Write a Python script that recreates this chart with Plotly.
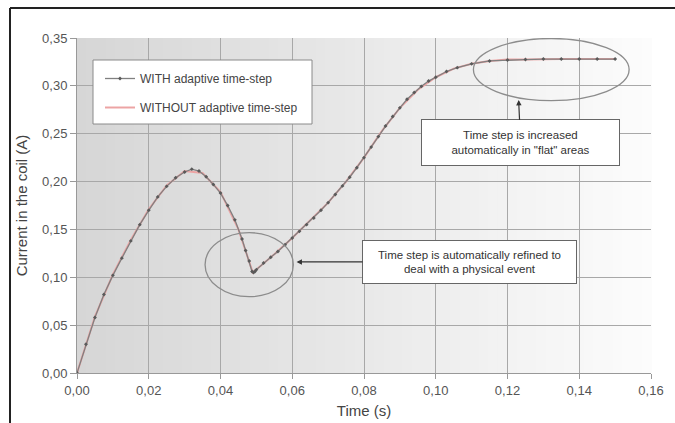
import plotly.graph_objects as go

# ---- data ----
t_with = [0.000, 0.0025, 0.005, 0.0075, 0.010, 0.0125, 0.015, 0.0175, 0.020, 0.0225,
          0.025, 0.0275, 0.030, 0.032, 0.034, 0.036, 0.038, 0.040, 0.042, 0.044,
          0.046, 0.047, 0.048, 0.0488, 0.0492, 0.0496, 0.050, 0.052, 0.054, 0.056,
          0.058, 0.060, 0.062, 0.064, 0.066, 0.068, 0.070, 0.072, 0.074, 0.076,
          0.078, 0.080, 0.082, 0.084, 0.086, 0.088, 0.090, 0.092, 0.094, 0.096,
          0.098, 0.100, 0.103, 0.106, 0.110, 0.115, 0.120, 0.125, 0.130, 0.135,
          0.140, 0.145, 0.150]
i_with = [0.000, 0.030, 0.058, 0.082, 0.102, 0.120, 0.138, 0.155, 0.170, 0.184,
          0.195, 0.204, 0.210, 0.213, 0.211, 0.205, 0.197, 0.188, 0.175, 0.160,
          0.140, 0.128, 0.117, 0.106, 0.105, 0.106, 0.108, 0.115, 0.121, 0.127,
          0.134, 0.141, 0.148, 0.155, 0.162, 0.170, 0.178, 0.1865, 0.1955, 0.2045,
          0.2145, 0.225, 0.236, 0.247, 0.258, 0.268, 0.277, 0.286, 0.293, 0.2995,
          0.305, 0.309, 0.315, 0.319, 0.323, 0.326, 0.327, 0.3275, 0.328, 0.328,
          0.328, 0.328, 0.328]

t_without = [0.000, 0.005, 0.010, 0.015, 0.020, 0.025, 0.030, 0.035, 0.040, 0.045,
             0.049, 0.055, 0.060, 0.065, 0.070, 0.075, 0.080, 0.085, 0.090, 0.095,
             0.100, 0.105, 0.110, 0.115, 0.120, 0.125, 0.130, 0.135, 0.140, 0.145, 0.150]
i_without = [0.000, 0.059, 0.103, 0.139, 0.171, 0.196, 0.211, 0.209, 0.189, 0.150,
             0.105, 0.124, 0.141, 0.160, 0.178, 0.200, 0.225, 0.253, 0.277, 0.296,
             0.309, 0.318, 0.323, 0.326, 0.3275, 0.3275, 0.328, 0.328, 0.328, 0.328, 0.328]

x_ticks = [0.00, 0.02, 0.04, 0.06, 0.08, 0.10, 0.12, 0.14, 0.16]
y_ticks = [0.00, 0.05, 0.10, 0.15, 0.20, 0.25, 0.30, 0.35]

name_with = "WITH adaptive time-step"
name_without = "WITHOUT adaptive time-step"
note_event = "Time step is automatically refined to<br>deal with a physical event"
note_flat = "Time step is increased<br>automatically in \"flat\" areas"

W, H = 675, 423
ML, MR, MT, MB = 77, 24, 38, 50

fig = go.Figure()
fig.add_trace(go.Scatter(x=t_without, y=i_without, mode="lines", name=name_without,
                         line=dict(color="#eca4a4", width=2.0), legendgroup="b",
                         legendrank=2))
fig.add_trace(go.Scatter(x=t_with, y=i_with, mode="lines+markers", name=name_with,
                         line=dict(color="#808080", width=1.3),
                         marker=dict(symbol="diamond", size=3, color="#5a5a5a"),
                         legendgroup="a", legendrank=1))

shapes = []
# gradient background of the plot area
n = 60
c0, c1 = 0xd6, 0xfc
for k in range(n):
    c = int(round(c0 + (c1 - c0) * k / (n - 1)))
    shapes.append(dict(type="rect", xref="paper", yref="paper",
                       x0=k / n, x1=(k + 1) / n + 0.002, y0=0, y1=1,
                       fillcolor=f"rgb({c},{c},{c})", line=dict(width=0), layer="below"))
pw, ph = W - ML - MR, H - MT - MB
def px(xp):
    return (xp - ML) / pw
def py(yp):
    return (H - MB - yp) / ph
# legend box
shapes.append(dict(type="rect", xref="paper", yref="paper",
                   x0=px(93), x1=px(312), y0=py(124), y1=py(60),
                   fillcolor="white", line=dict(color="#8a8a8a", width=1), layer="above"))
# ellipses
shapes.append(dict(type="circle", xref="x", yref="y", x0=0.0357, x1=0.0603,
                   y0=0.0797, y1=0.1466, line=dict(color="#8c8c8c", width=1.3)))
shapes.append(dict(type="circle", xref="x", yref="y", x0=0.1105, x1=0.1539,
                   y0=0.2845, y1=0.3495, line=dict(color="#8c8c8c", width=1.3)))
# outer frame (top and left)
shapes.append(dict(type="line", xref="paper", yref="paper", x0=px(10), x1=px(W + 5),
                   y0=py(8), y1=py(8), line=dict(color="#222", width=2)))
shapes.append(dict(type="line", xref="paper", yref="paper", x0=px(10), x1=px(10),
                   y0=py(8), y1=py(H + 5), line=dict(color="#222", width=2)))

annotations = [
    dict(x=0.0612, y=0.116, xref="x", yref="y", text=note_event, showarrow=True,
         ax=173, ay=0, arrowhead=2, arrowsize=0.9, arrowwidth=1.2, arrowcolor="#333",
         bgcolor="white", bordercolor="#666", borderwidth=1, borderpad=4,
         width=205, height=34, align="center", valign="middle",
         font=dict(size=11.5, color="#333")),
    dict(x=0.1231, y=0.2853, xref="x", yref="y", text=note_flat, showarrow=True,
         ax=2, ay=43, arrowhead=2, arrowsize=0.9, arrowwidth=1.2, arrowcolor="#333",
         bgcolor="white", bordercolor="#666", borderwidth=1, borderpad=4,
         width=189, height=37, align="center", valign="middle",
         font=dict(size=11.5, color="#333")),
]

fig.update_layout(
    width=W, height=H,
    margin=dict(l=ML, r=MR, t=MT, b=MB, autoexpand=False),
    paper_bgcolor="white", plot_bgcolor="white",
    separators=", ",
    font=dict(family="Liberation Sans, Arial, sans-serif", color="#444", size=12),
    shapes=shapes, annotations=annotations,
    showlegend=True,
    legend=dict(x=px(100), y=py(64), xanchor="left", yanchor="top",
                bgcolor="rgba(0,0,0,0)", borderwidth=0, tracegroupgap=10,
                traceorder="grouped", font=dict(size=12, color="#444")),
    xaxis=dict(range=[0, 0.16], tickvals=x_ticks, tickformat=".2f", automargin=False,
               showgrid=True, gridcolor="#a8a8a8", gridwidth=1,
               showline=True, linecolor="#999", linewidth=1,
               ticks="outside", ticklen=5, tickcolor="#999",
               zeroline=False, tickfont=dict(size=13, color="#555"),
               title=dict(text="Time (s)", font=dict(size=15, color="#444"), standoff=8)),
    yaxis=dict(range=[0, 0.35], tickvals=y_ticks, tickformat=".2f", automargin=False,
               showgrid=True, gridcolor="#a8a8a8", gridwidth=1,
               showline=True, linecolor="#999", linewidth=1,
               ticks="outside", ticklen=6, tickcolor="#999",
               zeroline=False, tickfont=dict(size=13, color="#555"),
               title=dict(text="Current in the coil (A)", font=dict(size=15, color="#444"), standoff=10)),
)

fig.write_html("out.html", config={"displayModeBar": False},
               post_script="document.body.style.margin='0';")
